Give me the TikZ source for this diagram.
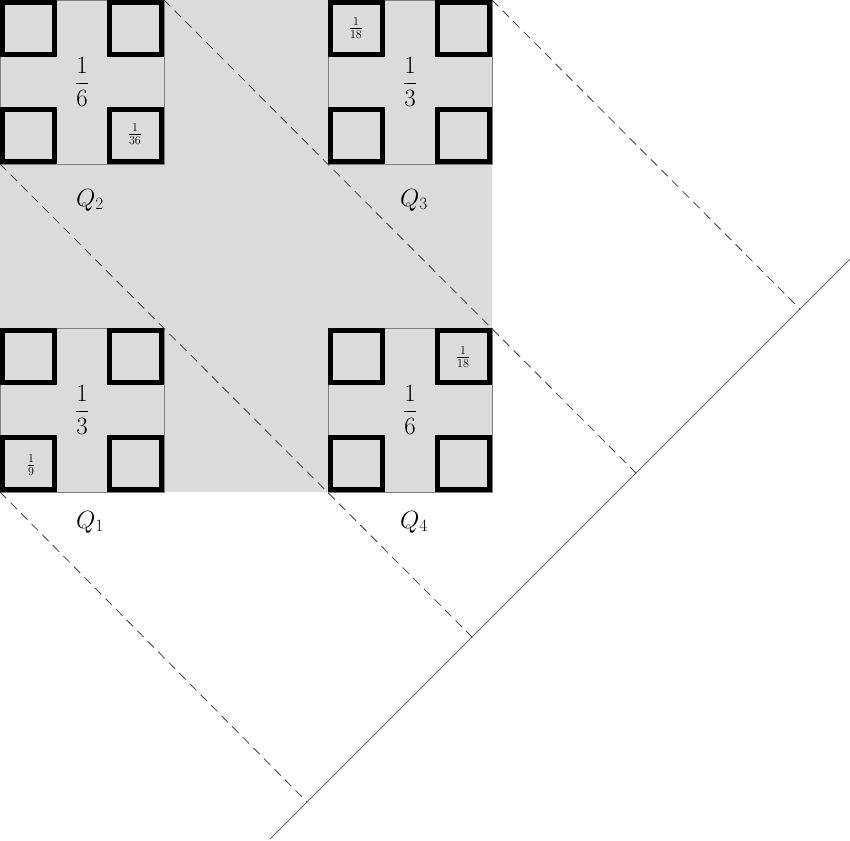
\documentclass[tikz,border=0pt]{standalone}
\begin{document}
\begin{tikzpicture}[x=1pt,y=-1pt,
  sq/.style={line width=5pt,draw=black},
  dsh/.style={draw=black!75,line width=0.8pt,dash pattern=on 9pt off 6pt},
  big/.style={font=\fontsize{28}{30}\selectfont},
  sml/.style={font=\fontsize{18}{20}\selectfont},
  ql/.style={font=\fontsize{26}{28}\selectfont}]
\useasboundingbox (0,0) rectangle (850,840);
\clip (0,0) rectangle (850,840);
\fill[black!14] (0,0) rectangle (492,492);
\foreach \ox/\oy in {0/0,328/0,0/328,328/328}{
  \draw[black!50,line width=0.8pt] (\ox,\oy) rectangle ++(164,164);
  \foreach \a/\b in {2.5/2.5,109.5/2.5,2.5/109.5,109.5/109.5}
    \draw[sq] (\ox+\a,\oy+\b) rectangle ++(52,52);
}
\node[big] (f2) at (82,82) {$\displaystyle\frac{1}{6}$};
\node[big] (f3) at (410,82) {$\displaystyle\frac{1}{3}$};
\node[big] (f1) at (82,410) {$\displaystyle\frac{1}{3}$};
\node[big] (f4) at (410,410) {$\displaystyle\frac{1}{6}$};
\node[sml] (s2) at (135,134) {$\frac{1}{36}$};
\node[sml] (s3) at (356,28) {$\frac{1}{18}$};
\node[sml] (s4) at (463,357) {$\frac{1}{18}$};
\node[sml] (s1) at (31,465) {$\frac{1}{9}$};
\node[ql] (q2) at (90,200) {$Q_2$};
\node[ql] (q3) at (414,200) {$Q_3$};
\node[ql] (q1) at (90,522) {$Q_1$};
\node[ql] (q4) at (414,522) {$Q_4$};
\coordinate (l0) at (270,839);
\coordinate (l5) at (850,259);
\draw[black!60,line width=0.8pt] (l0) -- (l5);
\coordinate (p1) at (307,802); \coordinate (p2) at (472,637);
\coordinate (p3) at (636,473); \coordinate (p4) at (800,309);
\coordinate (a1) at (0,492); \coordinate (a2) at (0,164);
\coordinate (a3) at (164,0); \coordinate (a4) at (492,0);
\draw[dsh] (a1) -- (p1);
\draw[dsh] (a2) -- (p2);
\draw[dsh] (a3) -- (p3);
\draw[dsh] (a4) -- (p4);
\end{tikzpicture}
\end{document}
